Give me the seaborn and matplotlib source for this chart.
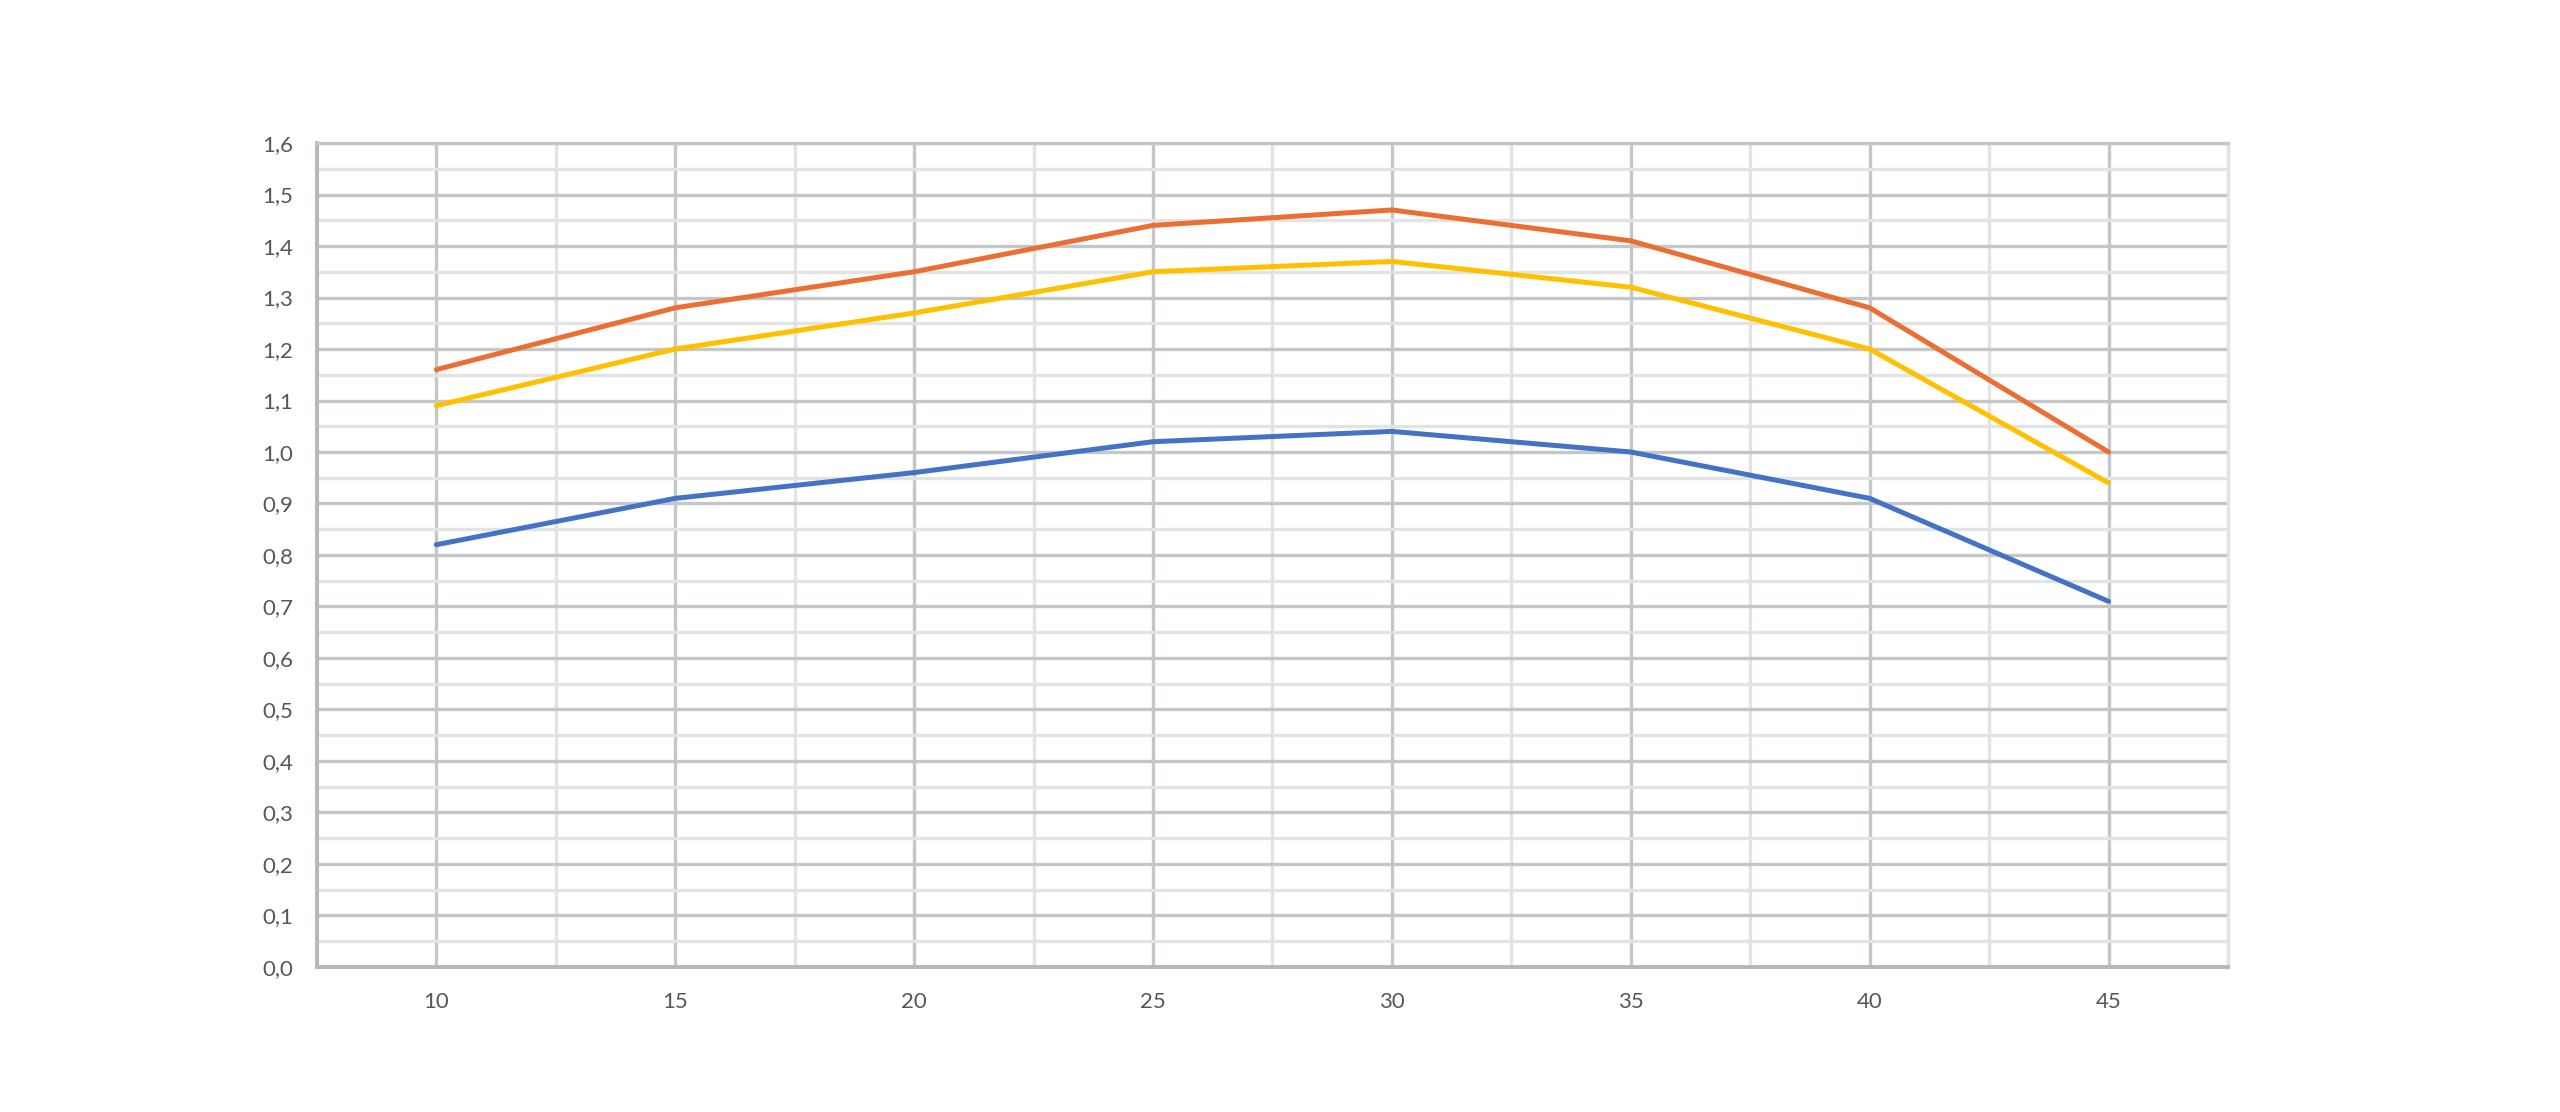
import seaborn as sns
import matplotlib.pyplot as plt
from matplotlib.ticker import MultipleLocator, FuncFormatter
import pandas as pd

# Values
x_values = [10, 15, 20, 25, 30, 35, 40, 45]
blue_values = [0.82, 0.91, 0.96, 1.02, 1.04, 1.00, 0.91, 0.71]
orange_values = [1.16, 1.28, 1.35, 1.44, 1.47, 1.41, 1.28, 1.00]
yellow_values = [1.09, 1.20, 1.27, 1.35, 1.37, 1.32, 1.20, 0.94]

series_names = ['blue', 'orange', 'yellow']
series_colors = {'blue': '#4472C4', 'orange': '#EB6F35', 'yellow': '#FFC000'}

# Long-form table for seaborn
data = pd.DataFrame({
    'x': x_values * 3,
    'y': blue_values + orange_values + yellow_values,
    'series': ['blue'] * 8 + ['orange'] * 8 + ['yellow'] * 8,
})

sns.set_style('white')
plt.rcParams['font.family'] = ['Lato', 'DejaVu Sans']

fig = plt.figure(figsize=(25.6, 11.12), dpi=100)
ax = fig.add_axes([0.1238, 0.1304, 0.7465, 0.741])

sns.lineplot(data=data, x='x', y='y', hue='series', hue_order=series_names,
             palette=series_colors, linewidth=3.6, legend=False, ax=ax, zorder=3)

# Axis limits and ticks (Excel-style category axis)
ax.set_xlim(7.5, 47.5)
ax.set_ylim(0, 1.6)
ax.xaxis.set_minor_locator(MultipleLocator(2.5))
ax.yaxis.set_major_locator(MultipleLocator(0.1))
ax.yaxis.set_minor_locator(MultipleLocator(0.05))
ax.set_xticks(x_values)
ax.yaxis.set_major_formatter(FuncFormatter(lambda v, p: f'{v:.1f}'.replace('.', ',')))

# Gridlines
ax.grid(which='major', color='#C4C7C7', linewidth=2.4, zorder=0)
ax.grid(which='minor', color='#E2E3E3', linewidth=2.4, zorder=0)
ax.set_axisbelow(True)

ax.tick_params(axis='both', which='both', length=0, labelsize=16, labelcolor='#555858')
ax.tick_params(axis='y', pad=17)
ax.tick_params(axis='x', pad=18)

for side in ['left', 'bottom']:
    ax.spines[side].set_color('#B5B8B8')
    ax.spines[side].set_linewidth(2.8)
ax.spines['top'].set_color('#C4C7C7')
ax.spines['top'].set_linewidth(2.4)
ax.spines['right'].set_color('#E2E3E3')
ax.spines['right'].set_linewidth(2.4)

ax.set_xlabel('')
ax.set_ylabel('')

plt.savefig('out.png', dpi=100)
